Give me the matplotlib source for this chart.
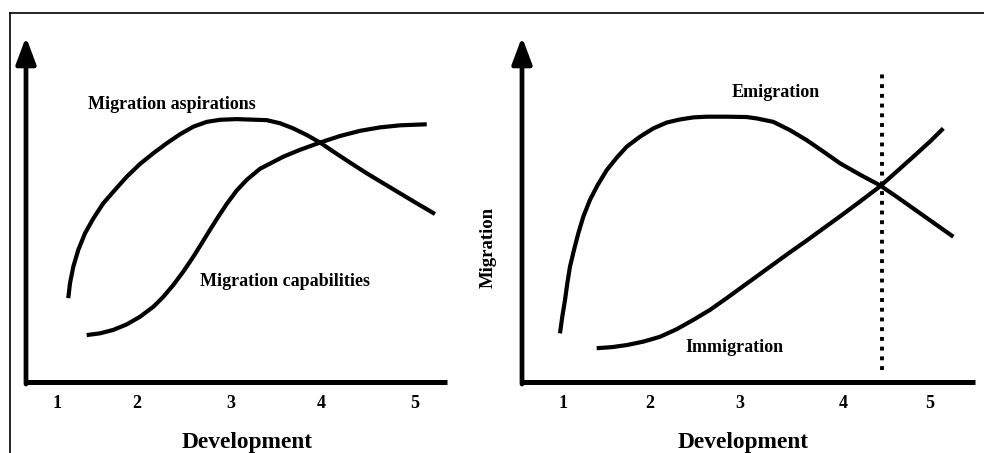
import matplotlib
matplotlib.use("Agg")
import matplotlib.pyplot as plt
from matplotlib.lines import Line2D

plt.rcParams['font.family'] = ['Liberation Serif', 'DejaVu Serif']
plt.rcParams['font.weight'] = 'bold'

# ---- data (development level vs. relative migration level) ----
tick_labels = ["1", "2", "3", "4", "5"]
left_tick_pos = [1, 1.894, 2.944, 3.95, 5]
right_tick_pos = [1, 1.948, 2.929, 4.052, 5]

aspir_x = [1.126, 1.145, 1.182, 1.238, 1.313, 1.406, 1.517, 1.648, 1.779,
           1.927, 2.076, 2.226, 2.374, 2.523, 2.673, 2.821, 3.008, 3.343,
           3.492, 3.640, 3.790, 3.939, 4.087, 4.274, 4.460, 4.646, 4.832,
           5.019, 5.223]
aspir_y = [0.243, 0.286, 0.334, 0.383, 0.431, 0.474, 0.518, 0.557, 0.595,
           0.632, 0.663, 0.692, 0.718, 0.740, 0.754, 0.760, 0.762, 0.759,
           0.750, 0.735, 0.716, 0.694, 0.668, 0.636, 0.605, 0.576, 0.547,
           0.518, 0.487]

capab_x = [1.332, 1.480, 1.629, 1.779, 1.927, 2.076, 2.188, 2.299, 2.411,
           2.523, 2.617, 2.709, 2.802, 2.896, 3.008, 3.120, 3.268, 3.528,
           3.715, 3.939, 4.162, 4.385, 4.609, 4.832, 5.131]
capab_y = [0.136, 0.141, 0.151, 0.167, 0.189, 0.218, 0.247, 0.281, 0.320,
           0.363, 0.402, 0.441, 0.479, 0.516, 0.555, 0.586, 0.618, 0.653,
           0.673, 0.694, 0.713, 0.728, 0.738, 0.744, 0.747]

emig_x = [0.967, 0.992, 1.022, 1.047, 1.076, 1.120, 1.167, 1.221, 1.294,
          1.378, 1.476, 1.585, 1.694, 1.839, 1.984, 2.130, 2.275, 2.420,
          2.566, 2.784, 3.002, 3.111, 3.292, 3.474, 3.656, 3.837, 4.019,
          4.237, 4.455, 4.637, 4.818, 5.036, 5.254]
emig_y = [0.141, 0.189, 0.238, 0.286, 0.334, 0.383, 0.431, 0.479, 0.528,
          0.571, 0.614, 0.650, 0.682, 0.711, 0.735, 0.752, 0.761, 0.767,
          0.769, 0.769, 0.768, 0.764, 0.754, 0.730, 0.701, 0.668, 0.634,
          0.601, 0.570, 0.537, 0.503, 0.462, 0.421]

immig_x = [1.367, 1.531, 1.694, 1.875, 2.057, 2.239, 2.420, 2.602, 2.784,
           2.965, 3.147, 3.292, 3.474, 3.656, 3.837, 4.019, 4.237, 4.455,
           4.637, 4.818, 5.000, 5.145]
immig_y = [0.098, 0.101, 0.107, 0.117, 0.131, 0.153, 0.180, 0.209, 0.243,
           0.278, 0.313, 0.341, 0.376, 0.410, 0.445, 0.480, 0.523, 0.567,
           0.610, 0.653, 0.697, 0.735]

transition_x = 4.477
transition_y = [0.035, 0.896]


fig = plt.figure(figsize=(9.84, 4.53), dpi=100)

# outer frame (only top and left edges visible)
fig.add_artist(Line2D([10/984, 1], [1 - 13/453, 1 - 13/453], color='black', lw=1.2,
                      transform=fig.transFigure))
fig.add_artist(Line2D([10/984, 10/984], [0, 1 - 13/453], color='black', lw=1.2,
                      transform=fig.transFigure))

ax1 = fig.add_axes([26/984, 71/453, 421/984, 345/453])
ax2 = fig.add_axes([522/984, 71/453, 453/984, 345/453])
ax1.set_xlim(0.6536, 5.3575)
ax2.set_xlim(0.5531, 5.4905)


def setup(ax, ticks, label_x):
    ax.set_ylim(0, 1)
    for s in ax.spines.values():
        s.set_visible(False)
    ax.set_yticks([])
    ax.set_xticks(ticks)
    ax.set_xticklabels(tick_labels, fontsize=13, fontweight='bold')
    ax.tick_params(axis='x', length=0, pad=9)
    ax.patch.set_alpha(0)
    # x axis
    ax.plot([0, 1], [0, 0], color='black', lw=3.6, transform=ax.transAxes,
            clip_on=False, solid_capstyle='butt')
    # y axis with arrow
    ax.annotate('', xy=(0, 1), xytext=(0, -0.006), xycoords='axes fraction',
                arrowprops=dict(arrowstyle='-|>,head_length=0.8,head_width=0.3',
                                lw=3.4, color='black', mutation_scale=20,
                                shrinkA=0, shrinkB=0))
    ax.text(label_x, -0.174, "Development", fontsize=16.8, fontweight='bold',
            ha='center', va='center', transform=ax.transAxes)


setup(ax1, left_tick_pos, 0.525)
setup(ax2, right_tick_pos, 0.488)

lw = 3.0
for ax, xs, ys in [(ax1, aspir_x, aspir_y), (ax1, capab_x, capab_y),
                   (ax2, emig_x, emig_y), (ax2, immig_x, immig_y)]:
    ax.plot(xs, ys, color='black', lw=lw, solid_capstyle='butt',
            solid_joinstyle='round')

ax1.text(1.346, 0.803, "Migration aspirations", fontsize=13, fontweight='bold',
         ha='left', va='center')
ax1.text(2.598, 0.290, "Migration capabilities", fontsize=13, fontweight='bold',
         ha='left', va='center')

ax2.plot([transition_x, transition_x], transition_y, color='black', lw=2.8,
         linestyle=(0, (1, 1.5)), dash_capstyle='butt')
ax2.text(2.842, 0.838, "Emigration", fontsize=13, fontweight='bold',
         ha='left', va='center')
ax2.text(2.330, 0.101, "Immigration", fontsize=13, fontweight='bold',
         ha='left', va='center')

fig.text(488/984, 1 - 247/453, "Migration", rotation=90, fontsize=13.5,
         fontweight='bold', ha='center', va='center')

fig.savefig("out.png", dpi=100)
